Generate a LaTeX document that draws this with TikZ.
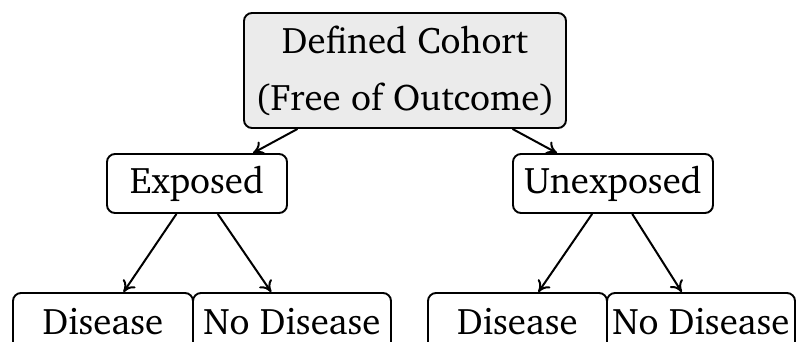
\documentclass[tikz,border=0pt]{standalone}
\usepackage[T1]{fontenc}
\usepackage{charter}
\usetikzlibrary{arrows.meta}
\definecolor{boxgray}{RGB}{235,235,235}
\tikzset{
  box/.style={draw=black, line width=1.9pt, rounded corners=8pt, align=center,
    inner sep=0pt, font=\fontsize{37}{57}\selectfont},
  topbox/.style={box, fill=boxgray, minimum width=322pt, minimum height=115pt},
  midbox/.style={box, fill=white, minimum height=59pt},
  leaf/.style={box, fill=white, minimum height=59pt},
  link/.style={line width=2pt, -{To[length=11pt,width=15pt]}}
}
\begin{document}
\begin{tikzpicture}[x=1pt,y=-1pt]
\useasboundingbox (0,0) rectangle (798,341);
\clip (0,0) rectangle (798,341);
\node[topbox] (cohort) at (405,70.5) {Defined Cohort\\(Free of Outcome)};
\node[midbox, minimum width=180pt] (exp) at (197,183.5) {Exposed};
\node[midbox, minimum width=200pt] (unexp) at (613,183.5) {Unexposed};
\node[leaf, minimum width=180pt, text depth=2pt] (d1) at (103,322.5) {Disease};
\node[leaf, minimum width=198pt, text depth=2pt] (n1) at (292,322.5) {No Disease};
\node[leaf, minimum width=179pt, text depth=2pt] (d2) at (517.5,322.5) {Disease};
\node[leaf, minimum width=188pt, text depth=2pt] (n2) at (701,322.5) {No Disease};
\draw[link] (cohort) -- (exp);
\draw[link] (cohort) -- (unexp);
\draw[link] (exp) -- (d1);
\draw[link] (exp) -- (n1);
\draw[link] (unexp) -- (d2);
\draw[link] (unexp) -- (n2);
\end{tikzpicture}
\end{document}
